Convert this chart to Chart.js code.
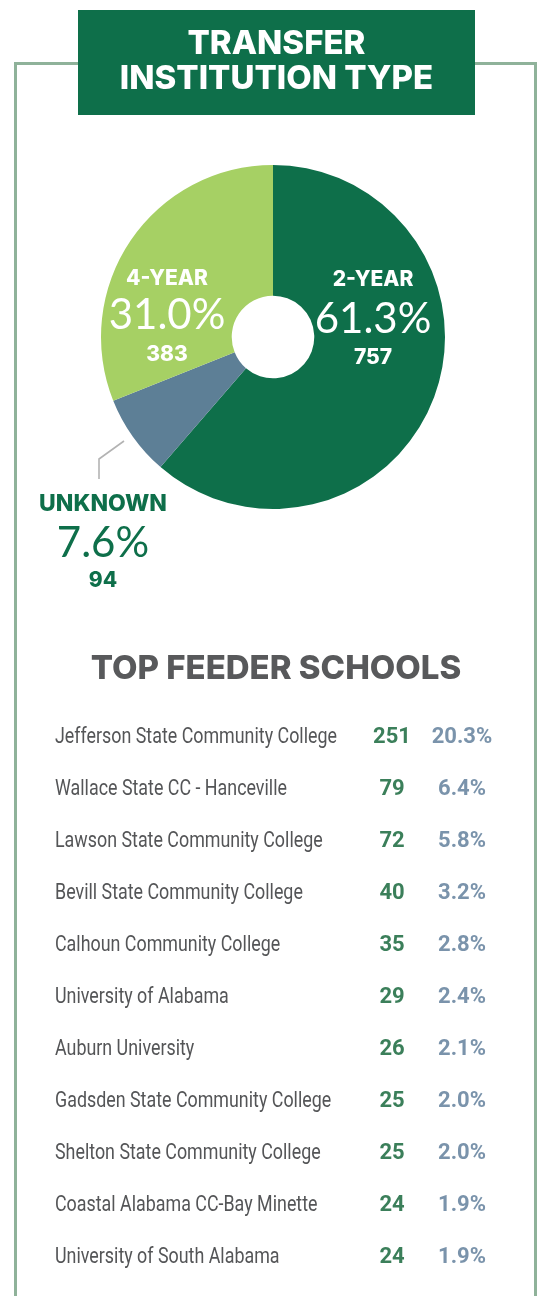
<!DOCTYPE html>
<html>
<head>
<meta charset="utf-8">
<script src="https://cdn.jsdelivr.net/npm/chart.js@4.4.1/dist/chart.umd.min.js"></script>
<style>
  html, body { margin: 0; padding: 0; background: #ffffff; }
  #page { position: relative; width: 538px; height: 1296px; overflow: hidden; background: #fff; }
  #frame { position: absolute; left: 14px; top: 62px; width: 517px; height: 1260px;
           border: 3px solid #8fb29a; border-bottom: none; }
  #titlebox { position: absolute; left: 78px; top: 10px; width: 397px; height: 105px; background: #0e6f4a; }
  #pie { position: absolute; left: 98px; top: 162px; width: 350px; height: 350px; }
  .t { position: absolute; white-space: nowrap; margin: 0; padding: 0; }
  svg { position: absolute; left: 0; top: 0; }
</style>
</head>
<body>
<div id="page">
  <div id="frame"></div>
  <div id="titlebox"></div>
  <div id="pie"><canvas id="c" width="350" height="350"></canvas></div>
  <svg width="538" height="1296"><polyline points="124,441 99,459 99,479" fill="none" stroke="#b3b3b3" stroke-width="1.6"/></svg>
</div>
<script>
// ---- Data ----
const titleLines = ['TRANSFER', 'INSTITUTION TYPE'];
const typeLabels = ['2-YEAR', 'UNKNOWN', '4-YEAR'];
const typeCounts = [757, 94, 383];
const typePercents = [61.3, 7.6, 31.0];
const typeColors = ['#0e6f4a', '#5d7f96', '#a6d064'];

const feederTitle = 'TOP FEEDER SCHOOLS';
const schools = [
  'Jefferson State Community College',
  'Wallace State CC - Hanceville',
  'Lawson State Community College',
  'Bevill State Community College',
  'Calhoun Community College',
  'University of Alabama',
  'Auburn University',
  'Gadsden State Community College',
  'Shelton State Community College',
  'Coastal Alabama CC-Bay Minette',
  'University of South Alabama'
];
const schoolCounts = [251, 79, 72, 40, 35, 29, 26, 25, 25, 24, 24];
const schoolPercents = [20.3, 6.4, 5.8, 3.2, 2.8, 2.4, 2.1, 2.0, 2.0, 1.9, 1.9];

// ---- Doughnut ----
new Chart(document.getElementById('c'), {
  type: 'doughnut',
  data: {
    labels: typeLabels,
    datasets: [{ data: typeCounts, backgroundColor: typeColors, borderWidth: 0, hoverOffset: 0 }]
  },
  options: {
    responsive: false,
    devicePixelRatio: 1,
    animation: false,
    cutout: '24%',
    layout: { padding: 3 },
    plugins: { legend: { display: false }, tooltip: { enabled: false } }
  }
});

// ---- Text placement helper ----
const page = document.getElementById('page');
const mctx = document.createElement('canvas').getContext('2d');
function metrics(font) {
  mctx.font = font;
  const m = mctx.measureText('H');
  return { cap: m.actualBoundingBoxAscent, A: m.fontBoundingBoxAscent, D: m.fontBoundingBoxDescent };
}
function place(text, x, capCenterY, weight, size, family, color, align, sx) {
  sx = sx || 1;
  const font = weight + ' ' + size + 'px ' + family;
  const mt = metrics(font);
  const L = Math.round(size * 0.8);
  const baseOff = (L - mt.A - mt.D) / 2 + mt.A;
  const d = document.createElement('div');
  d.className = 't';
  d.textContent = text;
  d.style.font = font;
  d.style.lineHeight = L + 'px';
  d.style.color = color;
  d.style.top = (capCenterY + mt.cap / 2 - baseOff) + 'px';
  d.style.left = x + 'px';
  d.style.transformOrigin = '0 0';
  if (align === 'center') {
    d.style.transform = 'scaleX(' + sx + ') translateX(-50%)';
  } else if (align === 'right') {
    d.style.transform = 'scaleX(' + sx + ') translateX(-100%)';
  } else {
    d.style.transform = 'scaleX(' + sx + ')';
  }
  page.appendChild(d);
  return d;
}
function fmt(p) { return p.toFixed(1) + '%'; }

const HEAD = 'Inter, "Open Sans", sans-serif';
const LIGHT = 'Lato, "Open Sans", sans-serif';
const BODY = 'Roboto, "Open Sans", sans-serif';

// Title (one text node, two lines)
(function () {
  const font = '800 33px ' + HEAD;
  const mt = metrics(font);
  const L = 35;
  const baseOff = (L - mt.A - mt.D) / 2 + mt.A;
  const d = document.createElement('div');
  d.className = 't';
  d.style.whiteSpace = 'pre';
  d.style.font = font;
  d.style.lineHeight = L + 'px';
  d.style.color = '#ffffff';
  d.style.textAlign = 'center';
  d.style.left = '78px';
  d.style.width = '397px';
  d.style.top = (42 + mt.cap / 2 - baseOff) + 'px';
  d.textContent = titleLines.join('\n');
  page.appendChild(d);
})();

// Pie labels
const labelPos = [
  { x: 373, y: [278, 317, 356], c: '#ffffff', s: 21 },
  { x: 103, y: [502, 541, 579], c: '#0e6f4a', s: 23 },
  { x: 167, y: [277, 313, 353], c: '#ffffff', s: 21 }
];
typeLabels.forEach((lab, i) => {
  const p = labelPos[i];
  place(lab, p.x, p.y[0], 800, p.s, HEAD, p.c, 'center', 1);
  place(fmt(typePercents[i]), p.x, p.y[1], 400, 42, LIGHT, p.c, 'center', 1);
  place(String(typeCounts[i]), p.x, p.y[2], 800, 21, HEAD, p.c, 'center', 1);
});

// Feeder schools
place(feederTitle, 276, 667, 800, 33, HEAD, '#58595b', 'center', 1);
mctx.font = '400 22px ' + BODY;
const nameScale = 282 / mctx.measureText(schools[0]).width;
schools.forEach((s, i) => {
  const y = 735 + i * 52;
  place(s, 55, y, 400, 22, BODY, '#545557', 'left', nameScale);
  place(String(schoolCounts[i]), 392, y, 700, 22, BODY, '#3b7f5a', 'center', 1);
  place(fmt(schoolPercents[i]), 462, y, 700, 22, BODY, '#7a93ab', 'center', 1);
});
</script>
</body>
</html>
